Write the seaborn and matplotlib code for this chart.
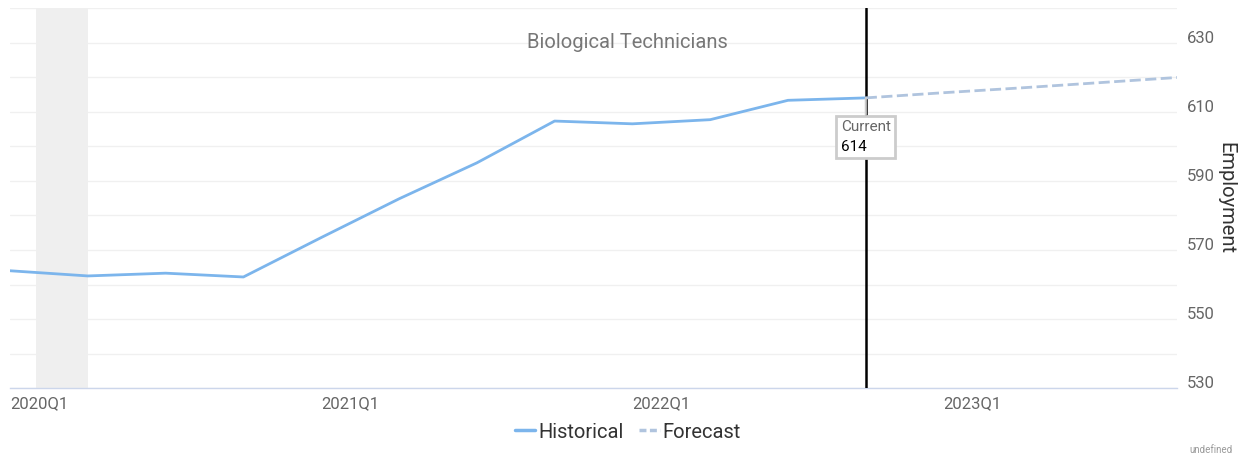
import matplotlib
matplotlib.use("Agg")
import matplotlib.pyplot as plt
import seaborn as sns
import pandas as pd
from matplotlib.lines import Line2D
from matplotlib.offsetbox import AnnotationBbox, TextArea, VPacker

# ---- data ----
quarters = ["2020Q1", "2020Q2", "2020Q3", "2020Q4",
            "2021Q1", "2021Q2", "2021Q3", "2021Q4",
            "2022Q1", "2022Q2", "2022Q3", "2022Q4",
            "2023Q1", "2023Q2", "2023Q3", "2023Q4"]
historical = [564.0, 562.5, 563.3, 562.2, 573.6, 584.8, 595.2, 607.3,
              606.5, 607.7, 613.3, 614.0]
forecast = [614.0, 615.5, 616.9, 618.4, 619.9]
forecast_start = "2022Q4"
current_quarter = "2022Q4"
current_value = 614
recession = (0.334, 1.0)  # in quarter-index units (Feb 2020 - Apr 2020)
title = "Biological Technicians"
y_label = "Employment"

sns.set_theme(style="white")
plt.rcParams["font.family"] = ["Roboto", "DejaVu Sans"]

fs = quarters.index(forecast_start)
hist_df = pd.DataFrame({"q": range(len(historical)), "value": historical})
fc_df = pd.DataFrame({"q": range(fs, fs + len(forecast)), "value": forecast})

fig = plt.figure(figsize=(12.53, 4.57), dpi=100)
ax = fig.add_axes([10 / 1253, 1 - 388.3 / 457, (1177 - 10) / 1253, (388.3 - 8) / 457])

ax.set_xlim(0, len(quarters) - 1)
ax.set_ylim(530, 640)

# grid
ax.set_yticks(range(530, 641, 10))
ax.set_yticklabels([str(v) if (v - 530) % 20 == 0 and v <= 630 else "" for v in range(530, 641, 10)])
ax.yaxis.grid(True, color="#f0f0f0", lw=1, zorder=0)
ax.xaxis.grid(False)
ax.set_axisbelow(True)

# recession shading
ax.axvspan(recession[0], recession[1], color="#efefef", lw=0, zorder=1)

# lines
sns.lineplot(data=hist_df, x="q", y="value", ax=ax, color="#7cb5ec", lw=2, zorder=4)
sns.lineplot(data=fc_df, x="q", y="value", ax=ax, color="#b0c4de", lw=2,
             linestyle=(0, (4, 1.6)), zorder=4)

# current line & label
cq = quarters.index(current_quarter)
ax.axvline(cq, color="black", lw=1.8, zorder=3)
packed = VPacker(children=[
    TextArea("Current", textprops=dict(color="#666666", fontsize=11)),
    TextArea(str(current_value), textprops=dict(color="black", fontsize=11)),
], align="left", pad=0, sep=4)
ab = AnnotationBbox(packed, (cq, current_value), xybox=(0, -16), xycoords="data",
                    boxcoords="offset points", box_alignment=(0.5, 1.0), pad=0.3,
                    bboxprops=dict(boxstyle="square,pad=0.3", fc="white", ec="#cccccc", lw=2),
                    arrowprops=dict(arrowstyle="-", color="#cccccc", lw=1.5,
                                    shrinkA=0, shrinkB=0),
                    zorder=5)
ax.add_artist(ab)

# axes styling
for s in ["top", "left", "right"]:
    ax.spines[s].set_visible(False)
ax.spines["bottom"].set_color("#ccd6eb")
ax.spines["bottom"].set_linewidth(1)

ax.set_xticks(range(0, len(quarters), 4))
ax.set_xticklabels([quarters[i] for i in range(0, len(quarters), 4)], ha="left")
ax.tick_params(axis="x", length=5, color="#ccd6eb", labelsize=12, labelcolor="#666666", pad=1)
ax.yaxis.tick_right()
ax.tick_params(axis="y", length=0, labelsize=12, labelcolor="#666666", pad=7)
for lab in ax.get_yticklabels():
    lab.set_verticalalignment("baseline")

ax.set_xlabel("")
ax.set_ylabel(y_label, rotation=270, fontsize=14.5, color="#333333", va="center", ha="center")
ax.yaxis.set_label_position("right")
ax.yaxis.set_label_coords(1.05, 0.5)

fig.text(627 / 1253, 1 - 42 / 457, title, ha="center", va="center", fontsize=14.5, color="#777777")

handles = [Line2D([], [], color="#7cb5ec", lw=2.5),
           Line2D([], [], color="#b0c4de", lw=2.5, linestyle=(0, (2, 1)))]
fig.legend(handles, ["Historical", "Forecast"], loc="center", bbox_to_anchor=(0.501, 1 - 432 / 457),
           ncol=2, frameon=False, fontsize=14.5, handlelength=1.0, handletextpad=0.15,
           columnspacing=0.8, labelcolor="#333333")

fig.text(1233 / 1253, 1 - 450 / 457, "undefined", ha="right", va="center", fontsize=7, color="#999999")

fig.savefig("out.png", dpi=100)
